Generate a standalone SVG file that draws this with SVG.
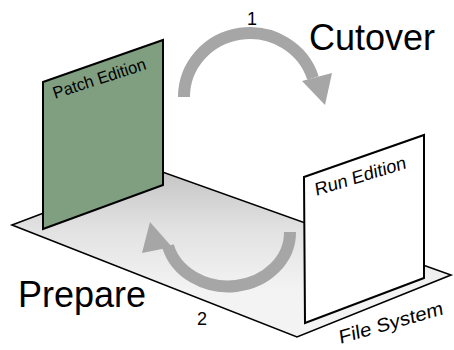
<svg xmlns="http://www.w3.org/2000/svg" width="454" height="350" viewBox="0 0 454 350">
<defs>
<linearGradient id="floorGrad" gradientUnits="userSpaceOnUse" x1="0" y1="170" x2="0" y2="290">
<stop offset="0" stop-color="#c4c4c4"/>
<stop offset="0.5" stop-color="#e2e2e2"/>
<stop offset="1" stop-color="#f3f3f3"/>
</linearGradient>
<style>
.panel{stroke:#000;stroke-width:2;stroke-linejoin:miter}
.shaft{fill:none;stroke:#a6a6a6;stroke-width:12}
.head{fill:#a6a6a6}
.lbl{font-family:"Liberation Sans",Arial,sans-serif;fill:#000}
</style>
</defs>
<rect width="454" height="350" fill="#fff"/>
<g id="filesystem">
<polygon points="12,225 157,170 451,275 297,337" fill="url(#floorGrad)" stroke="#000" stroke-width="1.6" stroke-linejoin="miter"/>
<text class="lbl" font-size="19" transform="translate(340,344) rotate(-16) skewX(-8)" textLength="108" lengthAdjust="spacingAndGlyphs">File System</text>
</g>
<g id="patch">
<polygon class="panel" points="43,82 163,40 163,185 43,229" fill="#809f80"/>
<text class="lbl" font-size="17" transform="translate(55,99) rotate(-18)" textLength="97" lengthAdjust="spacingAndGlyphs">Patch Edition</text>
</g>
<g id="run">
<polygon class="panel" points="304,177 424,135 424,278 305,323" fill="#fff"/>
<text class="lbl" font-size="18" transform="translate(316,196) rotate(-17) skewX(-8)" textLength="95" lengthAdjust="spacingAndGlyphs">Run Edition</text>
</g>
<g id="connectors">
<g id="cutover-arrow">
<path class="shaft" d="M184,97 A66,64 0 0 1 313,78"/>
<polygon class="head" points="302,81 332,73 325,105"/>
</g>
<g id="prepare-arrow">
<path class="shaft" d="M290,232 A62,54 0 0 1 168,246"/>
<polygon class="head" points="142,253 172,247 150,222"/>
</g>
</g>
<g id="labels">
<text class="lbl" font-size="18" x="252" y="25" text-anchor="middle">1</text>
<text class="lbl" font-size="36" x="309" y="50">Cutover</text>
<text class="lbl" font-size="36" x="18" y="307">Prepare</text>
<text class="lbl" font-size="18" x="202" y="325" text-anchor="middle">2</text>
</g>
</svg>
